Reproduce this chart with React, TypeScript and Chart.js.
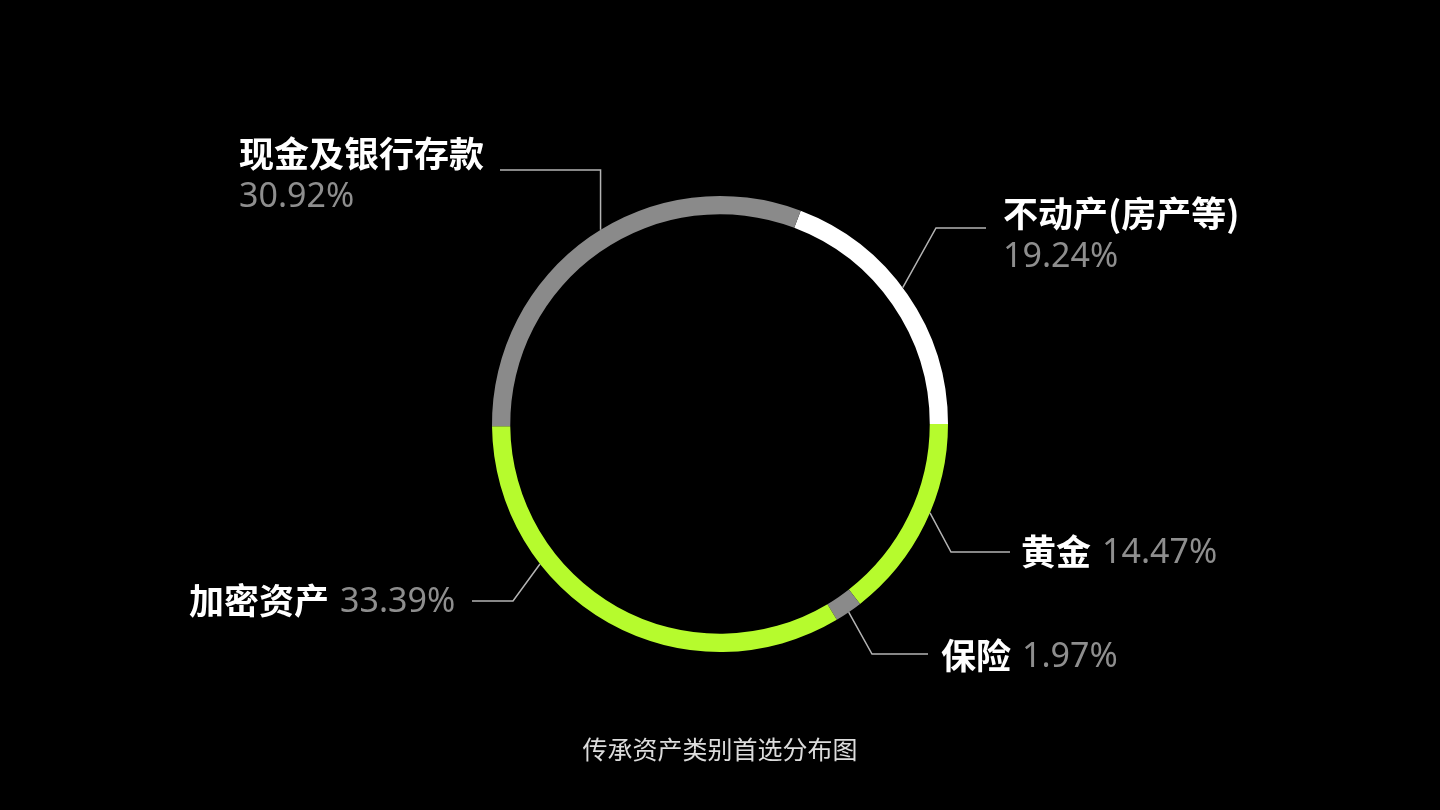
import { Chart, registerables, Plugin } from "chart.js";
import { useEffect, useRef } from "react";

Chart.register(...registerables);

const categories = ["不动产(房产等)", "黄金", "保险", "加密资产", "现金及银行存款"];
const shares = [19.24, 14.47, 1.97, 33.39, 30.92];
const shareLabels = ["19.24%", "14.47%", "1.97%", "33.39%", "30.92%"];
const sliceColors = ["#ffffff", "#b6fb2d", "#8a8a8a", "#b6fb2d", "#8a8a8a"];
const title = "传承资产类别首选分布图";

// where each callout sits: t = position along the slice, elbow/end of the leader line, text anchor
type Callout = {
  t: number;
  elbow: [number | null, number];
  end: [number, number];
  text: [number, number];
  inline: boolean;
};
const callouts: Callout[] = [
  { t: 0.47, elbow: [936, 228], end: [986, 228], text: [1003, 214], inline: false },
  { t: 0.44, elbow: [951, 552], end: [1010, 552], text: [1021, 552], inline: true },
  { t: 0.5, elbow: [872, 654], end: [928, 654], text: [941, 656], inline: true },
  { t: 0.69, elbow: [513, 601], end: [472, 601], text: [189, 601], inline: true },
  { t: 0.53, elbow: [null, 170], end: [500, 170], text: [239, 154], inline: false },
];

const NAME_FONT = 'bold 35px "Noto Sans CJK SC", "Noto Sans", sans-serif';
const VALUE_FONT = '34px "Noto Sans", "Noto Sans CJK SC", sans-serif';

const calloutPlugin: Plugin<"doughnut"> = {
  id: "callouts",
  afterDatasetsDraw(chart) {
    const ctx = chart.ctx;
    const meta = chart.getDatasetMeta(0);
    ctx.save();
    meta.data.forEach((el, i) => {
      const c = callouts[i];
      if (!c) return;
      const { x, y, startAngle, endAngle, outerRadius } = el.getProps(
        ["x", "y", "startAngle", "endAngle", "outerRadius"],
        true
      ) as any;
      const a = startAngle + (endAngle - startAngle) * c.t;
      const ax = x + Math.cos(a) * outerRadius;
      const ay = y + Math.sin(a) * outerRadius;
      const ex = c.elbow[0] ?? ax;

      ctx.beginPath();
      ctx.moveTo(ax, ay);
      ctx.lineTo(ex, c.elbow[1]);
      ctx.lineTo(c.end[0], c.end[1]);
      ctx.strokeStyle = "#b4b4b4";
      ctx.lineWidth = 1.5;
      ctx.stroke();

      ctx.textAlign = "left";
      ctx.textBaseline = "middle";
      ctx.font = NAME_FONT;
      ctx.fillStyle = "#ffffff";
      ctx.fillText(categories[i], c.text[0], c.text[1]);
      const w = ctx.measureText(categories[i]).width;

      ctx.font = VALUE_FONT;
      ctx.fillStyle = "#8e8e8e";
      if (c.inline) {
        ctx.fillText(shareLabels[i], c.text[0] + w + 11, c.text[1] + 1);
      } else {
        ctx.fillText(shareLabels[i], c.text[0], c.text[1] + 43);
      }
    });

    ctx.font = '25px "Noto Sans CJK SC", sans-serif';
    ctx.fillStyle = "#dcdcdc";
    ctx.textAlign = "center";
    ctx.textBaseline = "middle";
    ctx.fillText(title, chart.width / 2, 749);
    ctx.restore();
  },
};

export default function App() {
  const canvasRef = useRef<HTMLCanvasElement>(null);

  useEffect(() => {
    document.body.style.margin = "0";
    document.body.style.background = "#000";
    if (!canvasRef.current) return;

    const total = shares.reduce((s, v) => s + v, 0);
    const chart = new Chart(canvasRef.current, {
      type: "doughnut",
      data: {
        labels: categories,
        datasets: [
          {
            data: shares,
            backgroundColor: sliceColors,
            borderWidth: 0,
          },
        ],
      },
      options: {
        responsive: false,
        animation: false,
        // first slice ends exactly at 3 o'clock
        rotation: 90 - (360 * shares[0]) / total,
        cutout: "92%",
        layout: { padding: { top: 196, bottom: 158, left: 0, right: 0 } },
        plugins: {
          legend: { display: false },
          tooltip: { enabled: false },
        },
      },
      plugins: [calloutPlugin],
    });

    document.fonts?.ready.then(() => chart.draw());

    return () => {
      chart.destroy();
    };
  }, []);

  return (
    <div style={{ position: "fixed", left: 0, top: 0, width: 1440, height: 810, background: "#000" }}>
      <canvas ref={canvasRef} width={1440} height={810} style={{ width: 1440, height: 810 }} />
    </div>
  );
}
